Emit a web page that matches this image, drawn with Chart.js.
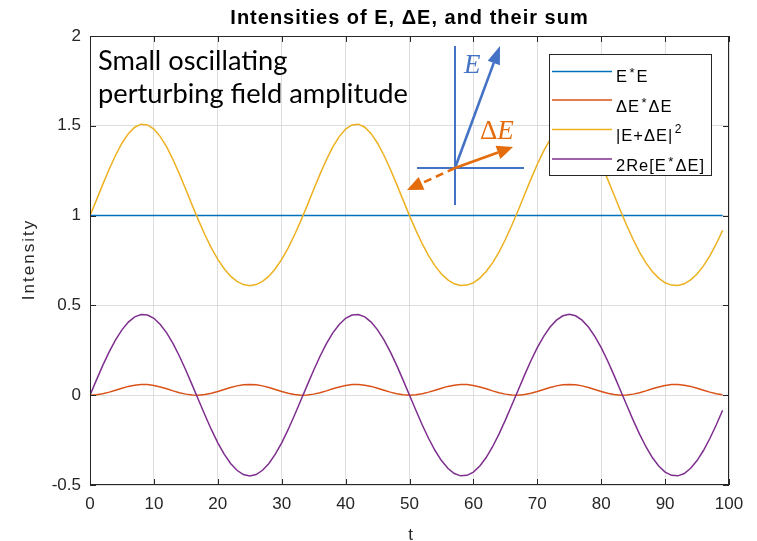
<!doctype html>
<html>
<head>
<meta charset="utf-8">
<script src="https://cdn.jsdelivr.net/npm/chart.js@4.4.1/dist/chart.umd.min.js"></script>
<style>
  html, body { margin: 0; padding: 0; background: #fff; }
  #wrap { width: 757px; height: 541px; }
</style>
</head>
<body>
<div id="wrap"><canvas id="chart" width="757" height="541"></canvas></div>
<script>

const t = [
  0, 1, 2, 3, 4, 5, 6, 7, 8, 9,
  10, 11, 12, 13, 14, 15, 16, 17, 18, 19,
  20, 21, 22, 23, 24, 25, 26, 27, 28, 29,
  30, 31, 32, 33, 34, 35, 36, 37, 38, 39,
  40, 41, 42, 43, 44, 45, 46, 47, 48, 49,
  50, 51, 52, 53, 54, 55, 56, 57, 58, 59,
  60, 61, 62, 63, 64, 65, 66, 67, 68, 69,
  70, 71, 72, 73, 74, 75, 76, 77, 78, 79,
  80, 81, 82, 83, 84, 85, 86, 87, 88, 89,
  90, 91, 92, 93, 94, 95, 96, 97, 98, 99
]

// E*E
const intensityE = [
  1, 1, 1, 1, 1, 1, 1, 1, 1, 1,
  1, 1, 1, 1, 1, 1, 1, 1, 1, 1,
  1, 1, 1, 1, 1, 1, 1, 1, 1, 1,
  1, 1, 1, 1, 1, 1, 1, 1, 1, 1,
  1, 1, 1, 1, 1, 1, 1, 1, 1, 1,
  1, 1, 1, 1, 1, 1, 1, 1, 1, 1,
  1, 1, 1, 1, 1, 1, 1, 1, 1, 1,
  1, 1, 1, 1, 1, 1, 1, 1, 1, 1,
  1, 1, 1, 1, 1, 1, 1, 1, 1, 1,
  1, 1, 1, 1, 1, 1, 1, 1, 1, 1
]

// dE*dE
const intensityDE = [
  0, 0.002, 0.008, 0.017, 0.028, 0.039, 0.049, 0.056, 0.060, 0.059,
  0.054, 0.046, 0.036, 0.024, 0.014, 0.006, 0.001, 0.000, 0.004, 0.011,
  0.021, 0.032, 0.043, 0.052, 0.058, 0.060, 0.058, 0.052, 0.043, 0.032,
  0.021, 0.011, 0.004, 0.000, 0.001, 0.006, 0.014, 0.024, 0.036, 0.046,
  0.054, 0.059, 0.060, 0.056, 0.049, 0.039, 0.028, 0.017, 0.008, 0.002,
  0, 0.002, 0.008, 0.017, 0.028, 0.039, 0.049, 0.056, 0.060, 0.059,
  0.054, 0.046, 0.036, 0.024, 0.014, 0.006, 0.001, 0.000, 0.004, 0.011,
  0.021, 0.032, 0.043, 0.052, 0.058, 0.060, 0.058, 0.052, 0.043, 0.032,
  0.021, 0.011, 0.004, 0.000, 0.001, 0.006, 0.014, 0.024, 0.036, 0.046,
  0.054, 0.059, 0.060, 0.056, 0.049, 0.039, 0.028, 0.017, 0.008, 0.002
]

// |E+dE|^2
const intensitySum = [
  1.000, 1.086, 1.174, 1.258, 1.336, 1.403, 1.456, 1.492, 1.509, 1.505,
  1.482, 1.440, 1.383, 1.311, 1.231, 1.145, 1.057, 0.972, 0.892, 0.819,
  0.756, 0.704, 0.663, 0.634, 0.616, 0.610, 0.616, 0.634, 0.663, 0.704,
  0.756, 0.819, 0.892, 0.972, 1.057, 1.145, 1.231, 1.311, 1.383, 1.440,
  1.482, 1.505, 1.509, 1.492, 1.456, 1.403, 1.336, 1.258, 1.174, 1.086,
  1.000, 0.918, 0.842, 0.776, 0.720, 0.675, 0.642, 0.620, 0.611, 0.613,
  0.626, 0.652, 0.689, 0.737, 0.797, 0.867, 0.945, 1.028, 1.116, 1.203,
  1.286, 1.360, 1.423, 1.470, 1.500, 1.510, 1.500, 1.470, 1.423, 1.360,
  1.286, 1.203, 1.116, 1.028, 0.945, 0.867, 0.797, 0.737, 0.689, 0.652,
  0.626, 0.613, 0.611, 0.620, 0.642, 0.675, 0.720, 0.776, 0.842, 0.918
]

// 2Re[E* dE]
const crossTerm = [
  0, 0.084, 0.166, 0.241, 0.308, 0.364, 0.407, 0.436, 0.449, 0.446,
  0.428, 0.394, 0.347, 0.287, 0.217, 0.139, 0.056, -0.028, -0.112, -0.192,
  -0.265, -0.328, -0.380, -0.418, -0.442, -0.450, -0.442, -0.418, -0.380, -0.328,
  -0.265, -0.192, -0.112, -0.028, 0.056, 0.139, 0.217, 0.287, 0.347, 0.394,
  0.428, 0.446, 0.449, 0.436, 0.407, 0.364, 0.308, 0.241, 0.166, 0.084,
  0, -0.084, -0.166, -0.241, -0.308, -0.364, -0.407, -0.436, -0.449, -0.446,
  -0.428, -0.394, -0.347, -0.287, -0.217, -0.139, -0.056, 0.028, 0.112, 0.192,
  0.265, 0.328, 0.380, 0.418, 0.442, 0.450, 0.442, 0.418, 0.380, 0.328,
  0.265, 0.192, 0.112, 0.028, -0.056, -0.139, -0.217, -0.287, -0.347, -0.394,
  -0.428, -0.446, -0.449, -0.436, -0.407, -0.364, -0.308, -0.241, -0.166, -0.084
]

// '^' puts the next character up as a superscript
const labels = ['E^*E', 'ΔE^*ΔE', '|E+ΔE|^2', '2Re[E^*ΔE]']
const seriesValues = [intensityE, intensityDE, intensitySum, crossTerm]
const colors = ['#0072BD', '#D95319', '#EDB120', '#7E2F8E']

const titleText = 'Intensities of E, ΔE, and their sum'
const xTitle = 't'
const yTitle = 'Intensity'
const noteLines = ['Small oscillating', 'perturbing field amplitude']

const FONT = '"Liberation Sans", Arial, sans-serif'
const AXIS_COLOR = '#262626'
const GRID_COLOR = '#dedede'

const datasets = seriesValues.map((vals, i) => ({
  label: labels[i],
  data: t.map((x, j) => ({ x: x, y: vals[j] })),
  borderColor: colors[i],
  backgroundColor: colors[i],
  borderWidth: 1.5,
  pointRadius: 0,
  tension: 0,
  order: seriesValues.length - i
}))

const splitLabel = label => {
  const parts = []
  for (let i = 0; i < label.length; i++) {
    if (label[i] === '^') { parts.push([label[i + 1], true]); i++ }
    else parts.push([label[i], false])
  }
  return parts
}

const drawArrow = (ctx, x0, y0, x1, y1, color, dashed, len, wid) => {
  const a = Math.atan2(y1 - y0, x1 - x0)
  const bx = x1 - len * Math.cos(a), by = y1 - len * Math.sin(a)
  ctx.strokeStyle = color
  ctx.lineWidth = 2.6
  ctx.setLineDash(dashed ? [8, 5] : [])
  ctx.beginPath(); ctx.moveTo(x0, y0); ctx.lineTo(bx, by); ctx.stroke()
  ctx.setLineDash([])
  ctx.fillStyle = color
  ctx.beginPath()
  ctx.moveTo(x1, y1)
  ctx.lineTo(bx + wid / 2 * Math.sin(a), by - wid / 2 * Math.cos(a))
  ctx.lineTo(bx - wid / 2 * Math.sin(a), by + wid / 2 * Math.cos(a))
  ctx.closePath(); ctx.fill()
}

const decor = {
  id: 'decor',
  afterDraw(chart) {
    const { ctx, chartArea: a, scales: { x, y } } = chart
    ctx.save()

    // box and inward ticks
    ctx.strokeStyle = AXIS_COLOR
    ctx.lineWidth = 1
    ctx.strokeRect(a.left + 0.5, a.top + 0.5, a.right - a.left - 1, a.bottom - a.top - 1)
    ctx.beginPath()
    x.ticks.forEach(tk => {
      const px = Math.round(x.getPixelForValue(tk.value)) + 0.5
      ctx.moveTo(px, a.bottom); ctx.lineTo(px, a.bottom - 6)
      ctx.moveTo(px, a.top); ctx.lineTo(px, a.top + 6)
    })
    y.ticks.forEach(tk => {
      const py = Math.round(y.getPixelForValue(tk.value)) + 0.5
      ctx.moveTo(a.left, py); ctx.lineTo(a.left + 6, py)
      ctx.moveTo(a.right, py); ctx.lineTo(a.right - 6, py)
    })
    ctx.stroke()

    // title and axis titles
    const cx = (a.left + a.right) / 2
    ctx.fillStyle = '#000'
    ctx.textAlign = 'center'
    ctx.textBaseline = 'alphabetic'
    ctx.font = 'bold 20px ' + FONT
    ctx.letterSpacing = '1px'
    ctx.fillText(titleText, cx, 24)
    ctx.fillStyle = AXIS_COLOR
    ctx.font = '17px ' + FONT
    ctx.letterSpacing = '0px'
    ctx.fillText(xTitle, cx + 1, 540)
    ctx.save()
    ctx.translate(29, (a.top + a.bottom) / 2)
    ctx.rotate(-Math.PI / 2)
    ctx.textBaseline = 'middle'
    ctx.letterSpacing = '2px'
    ctx.fillText(yTitle, 1, 0)
    ctx.restore()
    ctx.letterSpacing = '0px'

    // note text, squeezed to the width it has in the figure
    ctx.fillStyle = '#000'
    ctx.textAlign = 'left'
    ctx.font = '26px Lato, "Open Sans", sans-serif'
    const sx = 310 / ctx.measureText(noteLines[1]).width
    ctx.save()
    ctx.scale(sx, 1)
    ctx.fillText(noteLines[0], 98 / sx, 70)
    ctx.fillText(noteLines[1], 98 / sx, 103)
    ctx.restore()

    // vector sketch
    const ox = 455, oy = 168
    const blue = '#4472C4', orange = '#E46C0A'
    ctx.strokeStyle = blue
    ctx.lineWidth = 2
    ctx.beginPath()
    ctx.moveTo(ox, 46); ctx.lineTo(ox, 205)
    ctx.moveTo(417, oy); ctx.lineTo(524, oy)
    ctx.stroke()
    drawArrow(ctx, ox, oy, 500, 46, blue, false, 18, 13)
    drawArrow(ctx, ox, oy, 513, 147, orange, false, 16, 14)
    drawArrow(ctx, ox, oy, 407, 190, orange, true, 16, 14)
    ctx.fillStyle = blue
    ctx.font = 'italic 27px "Liberation Serif", "DejaVu Serif", serif'
    ctx.fillText('E', 464, 73)
    ctx.fillStyle = orange
    ctx.font = '27px "Liberation Serif", "DejaVu Serif", serif'
    ctx.fillText('Δ', 480, 139)
    const dw = ctx.measureText('Δ').width
    ctx.font = 'italic 27px "Liberation Serif", "DejaVu Serif", serif'
    ctx.fillText('E', 480 + dw, 139)

    // legend
    const lx = 549, ly = 54, lw = 162, lh = 121
    ctx.fillStyle = '#fff'
    ctx.fillRect(lx, ly, lw, lh)
    ctx.strokeStyle = AXIS_COLOR
    ctx.lineWidth = 1
    ctx.strokeRect(lx + 0.5, ly + 0.5, lw, lh)
    const rows = [71.5, 100, 129.5, 159]
    const bases = [82, 112, 140.5, 170.5]
    chart.data.datasets.forEach((ds, i) => {
      ctx.strokeStyle = ds.borderColor
      ctx.lineWidth = 1.5
      ctx.beginPath(); ctx.moveTo(552, rows[i]); ctx.lineTo(612, rows[i]); ctx.stroke()
      let tx = 616
      ctx.fillStyle = '#000'
      splitLabel(ds.label).forEach(([ch, sup]) => {
        if (sup) {
          ctx.font = (ch === '*' ? '13px ' : '12px ') + FONT
          tx += 1.5
          ctx.fillText(ch, tx, bases[i] - (ch === '*' ? 5 : 8))
          tx += ctx.measureText(ch).width + 2
        } else {
          ctx.font = '16.5px ' + FONT
          ctx.fillText(ch, tx, bases[i])
          tx += ctx.measureText(ch).width + 1
        }
      })
    })

    ctx.restore()
  }
}

new Chart(document.getElementById('chart').getContext('2d'), {
  type: 'line',
  data: { datasets },
  options: {
    responsive: false,
    devicePixelRatio: 1,
    animation: false,
    layout: { padding: { top: 36, right: 28, left: 0, bottom: 0 } },
    plugins: { legend: { display: false }, tooltip: { enabled: false }, title: { display: false } },
    scales: {
      x: {
        type: 'linear', min: 0, max: 100,
        ticks: { stepSize: 10, padding: 9, color: AXIS_COLOR, maxRotation: 0, font: { family: FONT, size: 17 }, callback: v => String(v) },
        grid: { color: GRID_COLOR, drawTicks: false },
        border: { display: false },
        afterFit: s => { s.height = 56 }
      },
      y: {
        type: 'linear', min: -0.5, max: 2,
        ticks: { stepSize: 0.5, padding: 9, color: AXIS_COLOR, font: { family: FONT, size: 17 }, callback: v => String(v) },
        grid: { color: GRID_COLOR, drawTicks: false },
        border: { display: false },
        afterFit: s => { s.width = 90 }
      }
    }
  },
  plugins: [decor]
})
</script>
</body>
</html>
